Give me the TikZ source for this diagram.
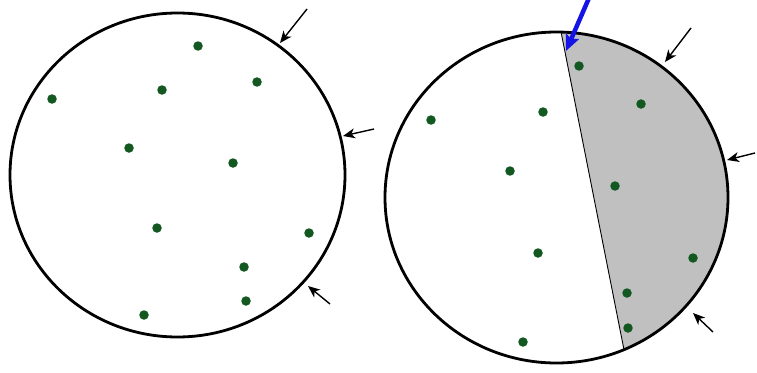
\documentclass[tikz,border=0pt]{standalone}
\usetikzlibrary{arrows.meta}
\definecolor{dotgreen}{RGB}{18,88,32}
\definecolor{shadegray}{RGB}{192,192,192}
\definecolor{arrblue}{RGB}{20,20,230}
\tikzset{
  rim/.style={line width=2.8pt, black},
  seed/.style={circle, fill=dotgreen, inner sep=0pt, minimum size=9.5pt},
  push/.style={-{Stealth[length=12pt,width=10pt,inset=3.5pt]}, line width=1.4pt, black},
  cutarrow/.style={-{Stealth[length=16pt,width=14pt,inset=3pt]}, line width=4.5pt, arrblue},
  chord/.style={line width=0.9pt, black}
}
\begin{document}
\begin{tikzpicture}[x=1pt,y=-1pt]
\useasboundingbox (0,0) rectangle (757,372);
\fill[white] (0,0) rectangle (757,372);
% ---------- left disc ----------
\coordinate (lc) at (177.5,175);
\draw[rim] (lc) ellipse [x radius=167.5, y radius=162];
\foreach \n/\x/\y in {a/198/46, b/257/82, c/162/90, d/52/99, e/129/148, f/233/163,
                      g/157/228, h/309/233, i/244/267, j/246/301, k/144/315}
  \node[seed] (L\n) at (\x,\y) {};
\coordinate (la1) at (307,9);   \coordinate (lb1) at (280,43);
\coordinate (la2) at (374,129); \coordinate (lb2) at (343,136);
\coordinate (la3) at (330,304); \coordinate (lb3) at (308,286);
\draw[push] (la1) -- (lb1);
\draw[push] (la2) -- (lb2);
\draw[push] (la3) -- (lb3);
% ---------- right disc ----------
\coordinate (rc) at (556.5,197.5);
\begin{scope}
  \clip (554.7,0) -- (760,0) -- (760,372) -- (628.4,372) -- cycle;
  \fill[shadegray] (rc) ellipse [x radius=171.5, y radius=165.5];
\end{scope}
\begin{scope}
  \clip (rc) ellipse [x radius=171.5, y radius=165.5];
  \coordinate (ct) at (554.7,0);
  \coordinate (cb) at (628.4,372);
  \draw[chord] (ct) -- (cb);
\end{scope}
\draw[rim] (rc) ellipse [x radius=171.5, y radius=165.5];
\foreach \n/\x/\y in {a/579/66, b/641/104, c/543/112, d/431/120, e/510/171, f/615/186,
                      g/538/253, h/693/258, i/627/293, j/628/328, k/523/342}
  \node[seed] (R\n) at (\x,\y) {};
\coordinate (ra1) at (691,28);  \coordinate (rb1) at (665,62);
\coordinate (ra2) at (755,153); \coordinate (rb2) at (727,160);
\coordinate (ra3) at (713,332); \coordinate (rb3) at (693,313);
\draw[push] (ra1) -- (rb1);
\draw[push] (ra2) -- (rb2);
\draw[push] (ra3) -- (rb3);
\coordinate (bt) at (589,-2);
\coordinate (bh) at (566,51);
\draw[cutarrow] (bt) -- (bh);
\end{tikzpicture}
\end{document}
